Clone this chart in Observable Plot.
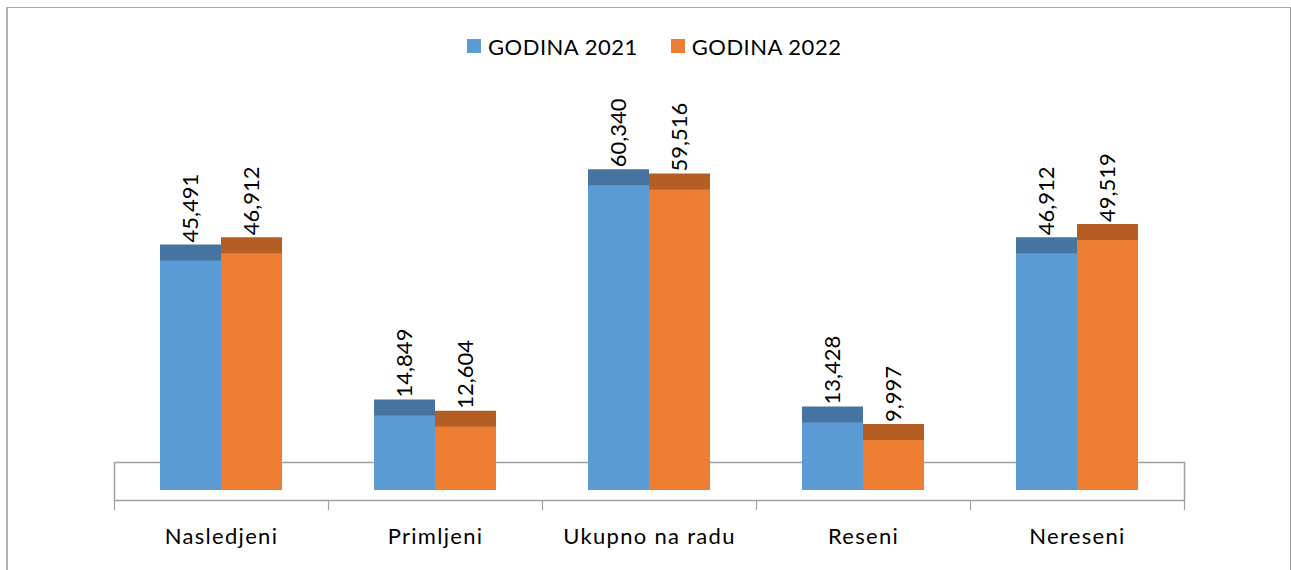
<!DOCTYPE html>
<html>
<head>
<meta charset="utf-8">
<script src="https://cdn.jsdelivr.net/npm/d3@7"></script>
<script src="https://cdn.jsdelivr.net/npm/@observablehq/plot@0.6"></script>
<style>
  html, body { margin: 0; padding: 0; background: #fff; overflow: hidden; }
  body { width: 1291px; height: 570px; position: relative; font-family: Lato, "Open Sans", sans-serif; }
  #border { position: absolute; left: 6px; top: 7px; height: 620px; border-top: 1px solid #a8a8a8; border-left: 2px solid #b0b0b0; border-right: 1px solid #a0a0a0; box-sizing: border-box; width: 1285px; }
  #legend { position: absolute; left: 467px; top: 33px; height: 26px; display: flex; align-items: center; font-size: 22px; letter-spacing: 0.5px; color: #000; white-space: nowrap; }
  #legend .sw { width: 14px; height: 14px; display: inline-block; margin-right: 7px; }
  #legend .item { display: flex; align-items: center; margin-right: 33px; }
  #chart { position: absolute; left: 0; top: 70px; }
  #chart svg g[aria-label="x-axis tick label"] text { letter-spacing: 1.3px; }
</style>
</head>
<body>
<div id="border"></div>
<div id="legend"></div>
<div id="chart"></div>
<script>
const categories = ["Nasledjeni", "Primljeni", "Ukupno na radu", "Reseni", "Nereseni"];
const seriesNames = ["GODINA 2021", "GODINA 2022"];
const values2021 = [45491, 14849, 60340, 13428, 46912];
const values2022 = [46912, 12604, 59516, 9997, 49519];

const fillColors = ["#5b9bd5", "#ed7d31"];
const capColors = ["#4674a0", "#b45e24"];

const fmt = d3.format(",");
const data2021 = categories.map((c, i) => ({cat: c, series: seriesNames[0], v: values2021[i]}));
const data2022 = categories.map((c, i) => ({cat: c, series: seriesNames[1], v: values2022[i]}));

// legend
const legend = document.getElementById("legend");
seriesNames.forEach((s, i) => {
  const it = document.createElement("div");
  it.className = "item";
  it.innerHTML = `<span class="sw" style="background:${fillColors[i]}"></span><span>${s}</span>`;
  legend.appendChild(it);
});

const half = 61; // half the band: each series takes one half
const labelStyle = {fontSize: 22, fill: "#000", rotate: -90, textAnchor: "start", lineAnchor: "middle", dy: -18};

const chart = Plot.plot({
  width: 1291,
  height: 500,
  marginLeft: 114,
  marginRight: 107,
  marginTop: 66,
  marginBottom: 70,
  style: {fontFamily: "Lato, 'Open Sans', sans-serif", background: "transparent", overflow: "visible"},
  x: {domain: categories, paddingInner: 0.43, paddingOuter: 0.215, label: null},
  y: {domain: [0, 70000], insetBottom: 10, axis: null},
  marks: [
    // floor (3D base)
    Plot.frame({insetTop: 326, stroke: "#a0a0a0", strokeWidth: 1.5}),
    // category boundary ticks
    Plot.axisX({tickSize: 10, tickFormat: null, dx: -107, stroke: "#a0a0a0", strokeWidth: 1.2}),
    Plot.axisX([categories[categories.length - 1]], {tickSize: 10, tickFormat: null, dx: 107, stroke: "#a0a0a0", strokeWidth: 1.2}),
    // labels
    Plot.axisX({tickSize: 0, tickPadding: 28, fontSize: 22, fill: "#000", label: null}),
    // bars 2021
    Plot.barY(data2021, {x: "cat", y: "v", fill: fillColors[0], insetRight: half}),
    Plot.tickY(data2021, {x: "cat", y: "v", stroke: capColors[0], strokeWidth: 16, dy: -8, insetRight: half}),
    // bars 2022
    Plot.barY(data2022, {x: "cat", y: "v", fill: fillColors[1], insetLeft: half}),
    Plot.tickY(data2022, {x: "cat", y: "v", stroke: capColors[1], strokeWidth: 16, dy: -8, insetLeft: half}),
    // value labels
    Plot.text(data2021, {x: "cat", y: "v", text: d => fmt(d.v), dx: -half / 2, ...labelStyle}),
    Plot.text(data2022, {x: "cat", y: "v", text: d => fmt(d.v), dx: half / 2, ...labelStyle})
  ]
});
document.getElementById("chart").appendChild(chart);
</script>
</body>
</html>
